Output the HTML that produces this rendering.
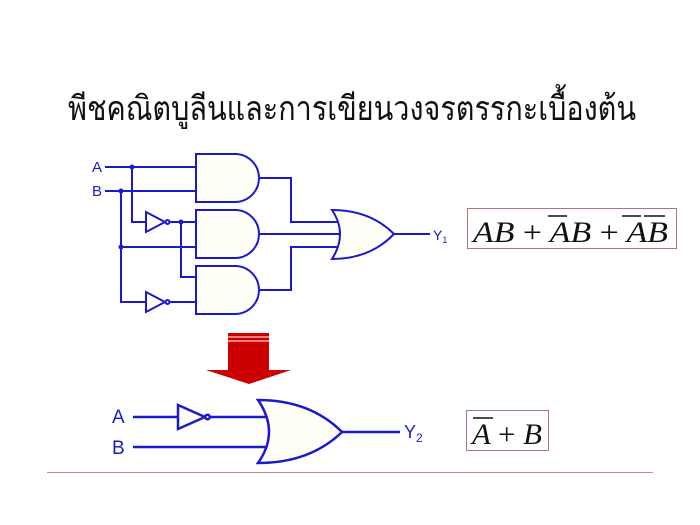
<!DOCTYPE html>
<html><head><meta charset="utf-8"><style>html,body{margin:0;padding:0;background:#fff}svg{display:block}</style></head>
<body>
<svg width="700" height="525" viewBox="0 0 700 525" xmlns="http://www.w3.org/2000/svg">
<text x="68" y="120" font-family="'Liberation Serif', serif" font-size="34" fill="#111" textLength="568" lengthAdjust="spacingAndGlyphs">พีชคณิตบูลีนและการเขียนวงจรตรรกะเบื้องต้น</text>
<g stroke="#1a1acc" stroke-width="2" fill="none">
<path d="M105 167H196M105 191H196"/>
<path d="M132 167V222H146M165 222H196M181 222V277H196"/>
<path d="M121 191V302H146M165 302H196M121 247H196"/>
<path d="M146 212L165 222L146 232Z" fill="#fffff8"/>
<circle cx="167.5" cy="222" r="2" fill="#fff"/>
<path d="M146 292L165 302L146 312Z" fill="#fffff8"/>
<circle cx="167.5" cy="302" r="2" fill="#fff"/>
<path d="M196 154H235A24 24 0 0 1 235 202H196Z" fill="#fffff8"/>
<path d="M196 210H235A24 24 0 0 1 235 258H196Z" fill="#fffff8"/>
<path d="M196 266H235A24 24 0 0 1 235 314H196Z" fill="#fffff8"/>
<path d="M259 178H291V222H340M259 234H342M259 290H291V247H340"/>
<path d="M332 210Q370 210 394 234Q370 259 332 259Q348 234 332 210Z" fill="#fffff8"/>
<path d="M394 234H430"/>
</g>
<g stroke="#1a1acc" stroke-width="2.5" fill="none">
<path d="M133 417H178M210 417H267M133 447H267"/>
<path d="M178 405L205 417L178 429Z" fill="#fffff8"/>
<circle cx="207.5" cy="417" r="2.3" fill="#fff"/>
<path d="M258 400Q310 400 342 432Q310 463 258 463Q280 432 258 400Z" fill="#fffff8"/>
<path d="M342 432H400"/>
</g>
<g fill="#1a1acc">
<circle cx="132" cy="167" r="2.5"/><circle cx="121" cy="191" r="2.5"/>
<circle cx="181" cy="222" r="2.5"/><circle cx="121" cy="247" r="2.5"/>
</g>
<g font-family="'Liberation Sans', sans-serif" fill="#1a1acc">
<text x="92" y="172" font-size="15">A</text>
<text x="92" y="196" font-size="15">B</text>
<text x="433" y="240" font-size="14">Y<tspan font-size="9" dy="3">1</tspan></text>
<text x="112" y="423" font-size="19">A</text>
<text x="112" y="454" font-size="19">B</text>
<text x="404" y="438" font-size="18">Y<tspan font-size="12" dy="4">2</tspan></text>
</g>
<path d="M228 333H269V370H291L249 384L206 370H228Z" fill="#cc0000"/>
<path d="M228 337H269M228 341H269" stroke="#fff" stroke-width="1"/>
<rect x="467.5" y="208.5" width="209" height="40" fill="#fff" stroke="#b87070" stroke-width="1"/>
<text x="473" y="242" font-family="'Liberation Serif', serif" font-style="italic" font-size="30" fill="#111" textLength="195" lengthAdjust="spacingAndGlyphs">AB <tspan font-style="normal">+</tspan> AB <tspan font-style="normal">+</tspan> AB</text>
<path d="M548 216H567M622 216H641M644 216H665" stroke="#111" stroke-width="1.5"/>
<rect x="466.5" y="410.5" width="82" height="40" fill="#fff" stroke="#b87070" stroke-width="1"/>
<text x="472" y="444" font-family="'Liberation Serif', serif" font-style="italic" font-size="30" fill="#111" textLength="70" lengthAdjust="spacingAndGlyphs">A <tspan font-style="normal">+</tspan> B</text>
<path d="M473 418H493" stroke="#111" stroke-width="1.5"/>
<path d="M47 472.5H653" stroke="#c88" stroke-width="1"/>
</svg>
</body></html>
